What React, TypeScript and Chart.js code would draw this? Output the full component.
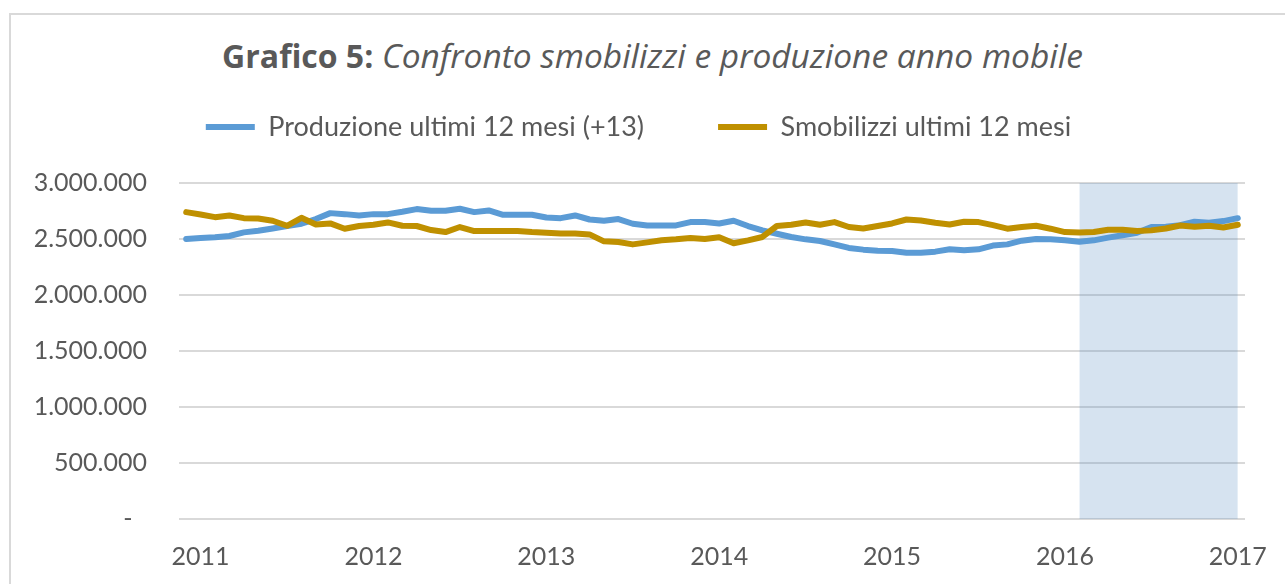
import React, { useEffect, useRef } from "react";
import { Chart, registerables } from "chart.js";

Chart.register(...registerables);

// Year tick labels shown on the x axis (one per January)
const yearTicks = ["2011", "2012", "2013", "2014", "2015", "2016", "2017"];

// Monthly categories: Dec 2010 .. Jan 2017
const categories: string[] = [];
for (let k = 0; k < 74; k++) {
  const m = (11 + k) % 12;
  const y = 2010 + Math.floor((11 + k) / 12);
  categories.push(`${y}-${String(m + 1).padStart(2, "0")}`);
}

// Produzione ultimi 12 mesi (+13)
const produzione = [
  2500000, 2509000, 2515000, 2527000, 2559000, 2574000, 2594000, 2616000, 2636000, 2678000,
  2731000, 2722000, 2710000, 2722000, 2722000, 2743000, 2767000, 2752000, 2752000, 2770000,
  2740000, 2755000, 2716000, 2716000, 2716000, 2692000, 2686000, 2710000, 2674000, 2663000,
  2678000, 2636000, 2621000, 2621000, 2621000, 2651000, 2651000, 2639000, 2663000, 2616000,
  2577000, 2547000, 2518000, 2497000, 2482000, 2452000, 2420000, 2405000, 2396000, 2393000,
  2378000, 2378000, 2387000, 2408000, 2399000, 2408000, 2441000, 2452000, 2485000, 2500000,
  2497000, 2488000, 2476000, 2488000, 2512000, 2533000, 2556000, 2607000, 2610000, 2624000,
  2654000, 2645000, 2660000, 2686000,
];

// Smobilizzi ultimi 12 mesi
const smobilizzi = [
  2740000, 2719000, 2695000, 2710000, 2686000, 2683000, 2663000, 2618000, 2689000, 2630000,
  2639000, 2592000, 2616000, 2627000, 2648000, 2618000, 2616000, 2580000, 2562000, 2607000,
  2571000, 2571000, 2571000, 2571000, 2562000, 2556000, 2550000, 2550000, 2541000, 2479000,
  2473000, 2452000, 2470000, 2488000, 2497000, 2509000, 2500000, 2515000, 2462000, 2488000,
  2518000, 2616000, 2627000, 2648000, 2627000, 2651000, 2607000, 2594000, 2616000, 2639000,
  2674000, 2665000, 2645000, 2630000, 2654000, 2651000, 2624000, 2592000, 2607000, 2618000,
  2592000, 2562000, 2559000, 2562000, 2583000, 2583000, 2571000, 2577000, 2594000, 2621000,
  2610000, 2618000, 2603000, 2627000,
];

// Shaded period (from 2016-02 to 2017-01)
const shadeStart = "2016-02";
const shadeValue = 3000000;
const shade = categories.map((c) => (c >= shadeStart ? shadeValue : null));

const yMax = 3000000;
const yStep = 500000;

const TEXT = "#595959";

function fmt(v: number): string {
  if (v === 0) return "-\u2007";
  return String(v).replace(/\B(?=(\d{3})+(?!\d))/g, ".");
}

export default function App() {
  const ref = useRef<HTMLCanvasElement | null>(null);

  useEffect(() => {
    if (!ref.current) return;
    const chart = new Chart(ref.current, {
      type: "line",
      data: {
        labels: categories,
        datasets: [
          {
            label: "Produzione ultimi 12 mesi (+13)",
            data: produzione,
            borderColor: "#5B9BD5",
            backgroundColor: "#5B9BD5",
            borderWidth: 6,
            borderCapStyle: "round",
            borderJoinStyle: "round",
            pointRadius: 0,
            tension: 0,
            fill: false,
            order: 1,
          },
          {
            label: "Smobilizzi ultimi 12 mesi",
            data: smobilizzi,
            borderColor: "#BF9000",
            backgroundColor: "#BF9000",
            borderWidth: 6,
            borderCapStyle: "round",
            borderJoinStyle: "round",
            pointRadius: 0,
            tension: 0,
            fill: false,
            order: 0,
          },
          {
            label: "shade",
            data: shade,
            borderWidth: 0,
            borderColor: "rgba(0,0,0,0)",
            backgroundColor: "rgba(84,138,192,0.24)",
            pointRadius: 0,
            fill: "origin",
            spanGaps: false,
            order: 5,
          },
        ],
      },
      options: {
        responsive: false,
        animation: false,
        events: [],
        layout: { padding: { left: 32, right: 40, top: 39.5, bottom: 0 } },
        plugins: {
          title: { display: false },
          // empty spacer between legend and plot area
          subtitle: {
            display: true,
            text: "",
            position: "top",
            weight: 500,
            padding: 0,
            font: { size: 32.5, lineHeight: 1 },
          },
          tooltip: { enabled: false },
          legend: {
            display: true,
            position: "top",
            labels: {
              usePointStyle: true,
              pointStyle: "line",
              pointStyleWidth: 49,
              padding: 74,
              color: TEXT,
              font: { family: "Lato", size: 27 },
              filter: (item: any) => item.datasetIndex !== 2,
              sort: (a: any, b: any) => a.datasetIndex - b.datasetIndex,
            },
          },
        },
        scales: {
          x: {
            type: "category",
            offset: true,
            afterFit: (scale: any) => {
              scale.height = 65;
              scale.paddingLeft = 0;
              scale.paddingRight = 0;
            },
            grid: { display: false, drawTicks: false },
            border: { display: false },
            ticks: {
              autoSkip: false,
              maxRotation: 0,
              minRotation: 0,
              padding: 23,
              color: TEXT,
              font: { family: "Lato", size: 25 },
              callback: (_v: any, i: number) =>
                (i - 1) % 12 === 0 ? yearTicks[(i - 1) / 12] : null,
            },
          },
          y: {
            min: 0,
            max: yMax,
            afterFit: (scale: any) => {
              scale.width = 147;
            },
            grid: { color: "#D9D9D9", lineWidth: 2, drawTicks: false },
            border: { display: false },
            ticks: {
              stepSize: yStep,
              padding: 32,
              color: TEXT,
              font: { family: "Lato", size: 25 },
              callback: (v: any) => fmt(Number(v)),
            },
          },
        },
      },
    });
    return () => chart.destroy();
  }, []);

  return (
    <div
      style={{
        position: "fixed",
        left: 0,
        top: 0,
        width: 1285,
        height: 584,
        overflow: "hidden",
        background: "#fff",
      }}
    >
      <div
        style={{
          position: "absolute",
          left: 9,
          top: 13,
          width: 1400,
          height: 700,
          border: "2px solid #D9D9D9",
        }}
      />
      <div
        style={{
          position: "absolute",
          left: 0,
          top: 38.5,
          width: 1305,
          textAlign: "center",
          fontFamily: "'Open Sans', sans-serif",
          fontSize: 33.5,
          lineHeight: 1,
          color: TEXT,
          whiteSpace: "nowrap",
        }}
      >
        <span style={{ fontWeight: 700, fontSize: 32 }}>Grafico 5:</span>{" "}
        <span style={{ fontStyle: "italic" }}>
          Confronto smobilizzi e produzione anno mobile
        </span>
      </div>
      <canvas
        ref={ref}
        width={1285}
        height={584}
        style={{ position: "absolute", left: 0, top: 0 }}
      />
    </div>
  );
}
